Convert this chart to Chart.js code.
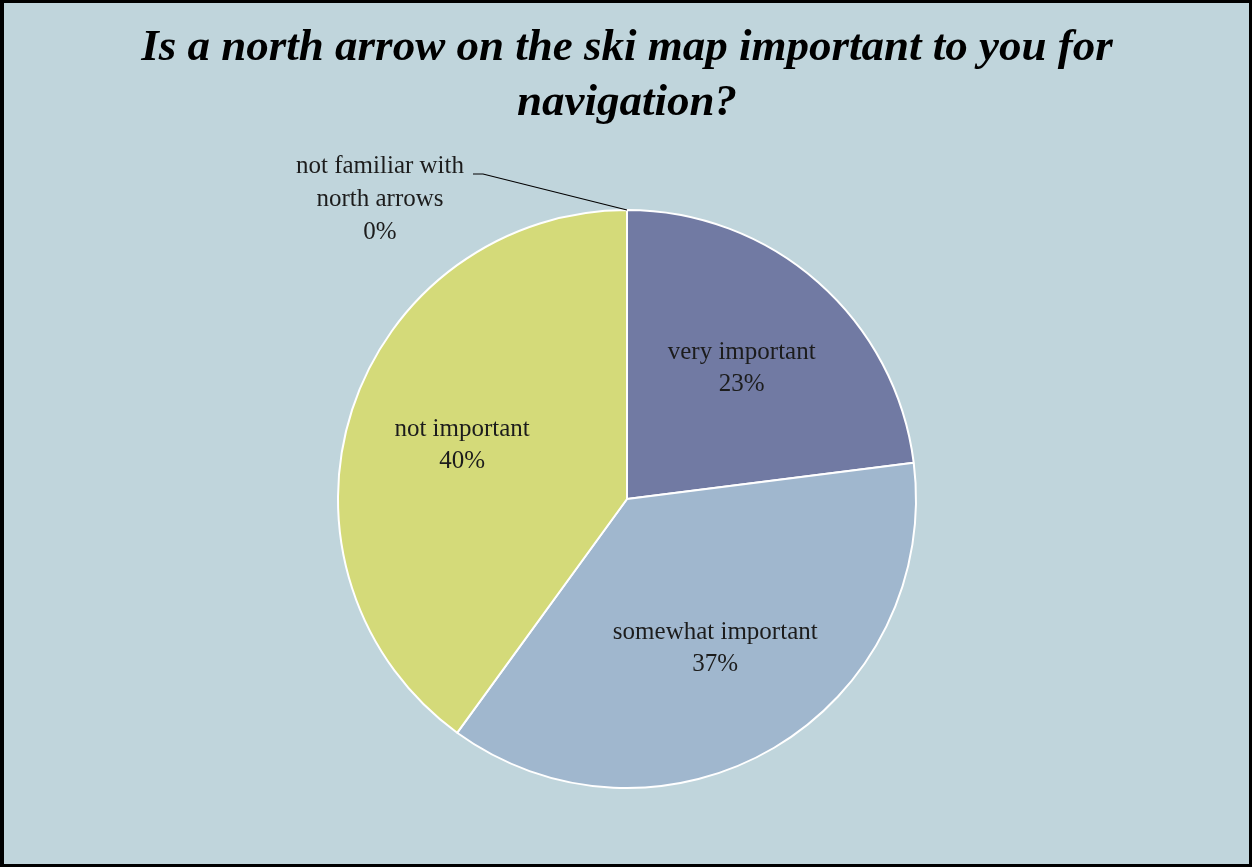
<!DOCTYPE html>
<html>
<head>
<meta charset="utf-8">
<script src="https://cdn.jsdelivr.net/npm/chart.js@4"></script>
<style>
  body { margin: 0; background: #c0d5dc; }
  #wrap { position: relative; width: 1252px; height: 867px; }
  #frame {
    position: absolute; left: 0; top: 0; right: 0; bottom: 0;
    border-style: solid; border-color: #000;
    border-width: 3px 3px 3px 4px;
    pointer-events: none;
  }
</style>
</head>
<body>
<div id="wrap">
  <canvas id="pieChart" width="1252" height="867"></canvas>
  <div id="frame"></div>
</div>
<script>
const categories = ["very important", "somewhat important", "not important", "not familiar with north arrows"];
const percentages = [23, 37, 40, 0];
const sliceColors = ["#717aa3", "#a0b7ce", "#d4da79", "#c9c9c9"];

const labelFont = "25px 'Liberation Serif', serif";

// slice labels: name + percent inside the slice, zero slices get a leader line
const sliceLabels = {
  id: "sliceLabels",
  afterDatasetsDraw(chart) {
    const ctx = chart.ctx;
    const meta = chart.getDatasetMeta(0);
    ctx.save();
    ctx.font = labelFont;
    ctx.fillStyle = "#1c1c1c";
    ctx.textAlign = "center";
    ctx.textBaseline = "middle";
    meta.data.forEach((arc, i) => {
      const p = arc.getProps(["x", "y", "startAngle", "endAngle", "outerRadius"], true);
      const value = percentages[i];
      if (value > 0) {
        const mid = (p.startAngle + p.endAngle) / 2;
        const r = p.outerRadius * 0.6;
        const cx = p.x + Math.cos(mid) * r;
        const cy = p.y + Math.sin(mid) * r;
        ctx.fillText(categories[i], cx, cy - 16);
        ctx.fillText(value + "%", cx, cy + 16);
      } else {
        const ax = p.x + Math.cos(p.startAngle) * p.outerRadius;
        const ay = p.y + Math.sin(p.startAngle) * p.outerRadius;
        const lx = ax - 247, ly = ay - 11;
        ctx.fillText("not familiar with", lx, ly - 33);
        ctx.fillText("north arrows", lx, ly);
        ctx.fillText(value + "%", lx, ly + 33);
        ctx.strokeStyle = "#000";
        ctx.lineWidth = 1.2;
        ctx.beginPath();
        ctx.moveTo(lx + 93, ly - 25);
        ctx.lineTo(lx + 103, ly - 25);
        ctx.lineTo(ax, ay);
        ctx.stroke();
      }
    });
    ctx.restore();
  }
};

new Chart(document.getElementById("pieChart"), {
  type: "pie",
  data: {
    labels: categories,
    datasets: [{
      data: percentages,
      backgroundColor: sliceColors,
      borderColor: "#ffffff",
      borderWidth: 2
    }]
  },
  options: {
    responsive: false,
    animation: false,
    layout: { padding: { left: 2, right: 0, top: 0, bottom: 78 } },
    plugins: {
      legend: { display: false },
      tooltip: { enabled: false },
      title: {
        display: true,
        text: ["Is a north arrow on the ski map important to you for", "navigation?"],
        color: "#000",
        font: { family: "'Liberation Serif', serif", size: 45, style: "italic", weight: "bold", lineHeight: 1.222 },
        padding: { top: 21, bottom: 78 }
      }
    }
  },
  plugins: [sliceLabels]
});
</script>
</body>
</html>
